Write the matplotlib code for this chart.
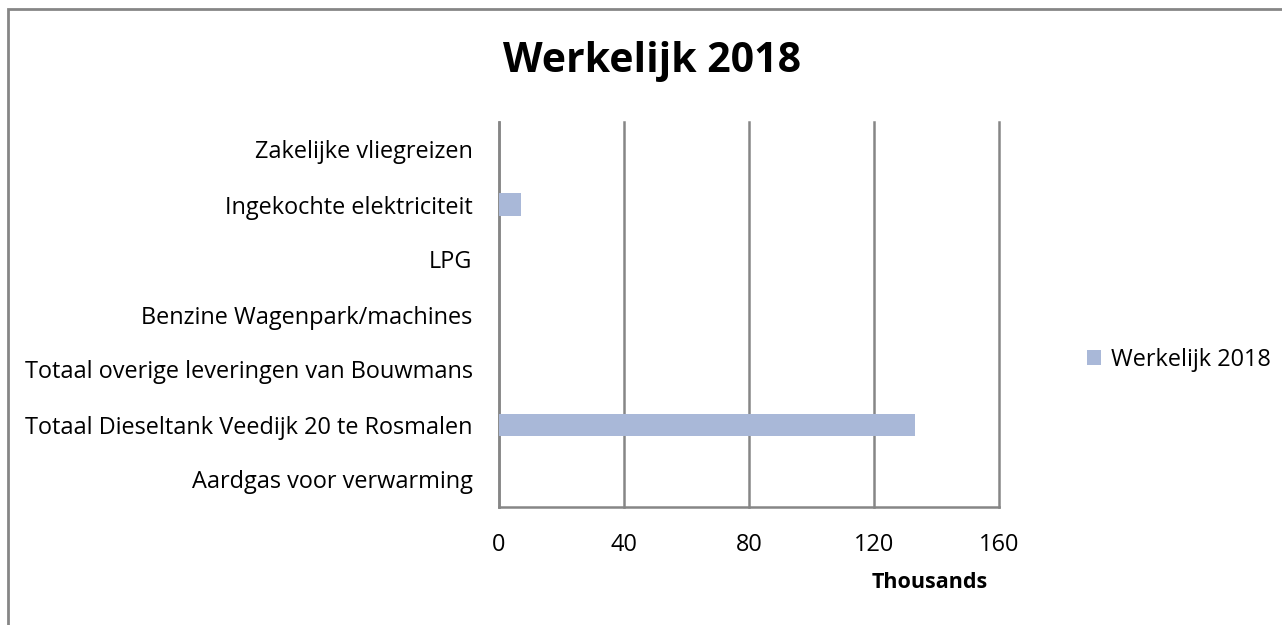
import matplotlib.pyplot as plt
from matplotlib.patches import Rectangle
import numpy as np

plt.rcParams['font.family'] = ['Open Sans', 'DejaVu Sans']

# data (bottom to top, as drawn)
categories = [
    "Aardgas voor verwarming",
    "Totaal Dieseltank Veedijk 20 te Rosmalen",
    "Totaal overige leveringen van Bouwmans",
    "Benzine Wagenpark/machines",
    "LPG",
    "Ingekochte elektriciteit",
    "Zakelijke vliegreizen",
]
values = [0, 133100, 0, 0, 0, 7000, 0]
series_name = "Werkelijk 2018"
x_ticks = [0, 40, 80, 120, 160]

bar_color = "#A9B8D8"
grid_color = "#868686"
fs = 16.9

fig = plt.figure(figsize=(12.82, 6.25), dpi=100)
W, H = 1282, 625
ax = fig.add_axes([499 / W, 1 - 507 / H, 500 / W, 385 / H])

y = np.arange(len(categories))
ax.barh(y, np.array(values) / 1000, height=0.4, color=bar_color, label=series_name, zorder=3)

ax.set_xlim(0, 160)
ax.set_ylim(-0.5, len(categories) - 0.5)
ax.set_xticks(x_ticks)
ax.set_xticklabels([str(t) for t in x_ticks], fontsize=fs)
ax.set_yticks(y)
ax.set_yticklabels(categories, fontsize=fs)
ax.tick_params(length=0)
ax.tick_params(axis='y', pad=19)
ax.tick_params(axis='x', pad=19)

ax.grid(True, axis='x', color=grid_color, linewidth=1.8, zorder=0)
for gl in ax.get_xgridlines():
    gl.set_clip_on(False)
for side in ['top', 'right']:
    ax.spines[side].set_visible(False)
for side in ['left', 'bottom']:
    ax.spines[side].set_color(grid_color)
    ax.spines[side].set_linewidth(1.8)

fig.text(930 / W, 1 - 582 / H, "Thousands", fontsize=15.5, fontweight='bold',
         ha='center', va='center')
fig.text(652 / W, 1 - 62 / H, series_name, fontsize=29.5, fontweight='bold',
         ha='center', va='center')

ax.legend(loc='center left', bbox_to_anchor=(1066 / W, 1 - 360 / H),
          bbox_transform=fig.transFigure, frameon=False, fontsize=fs,
          handlelength=0.6, handleheight=0.6, handletextpad=0.4)

# outer chart border
fig.patches.append(Rectangle((8 / W, -0.05), 1.2, 1 - 9 / H + 0.05,
                             transform=fig.transFigure, fill=False,
                             edgecolor=grid_color, linewidth=2))

fig.savefig("out.png", dpi=100)
